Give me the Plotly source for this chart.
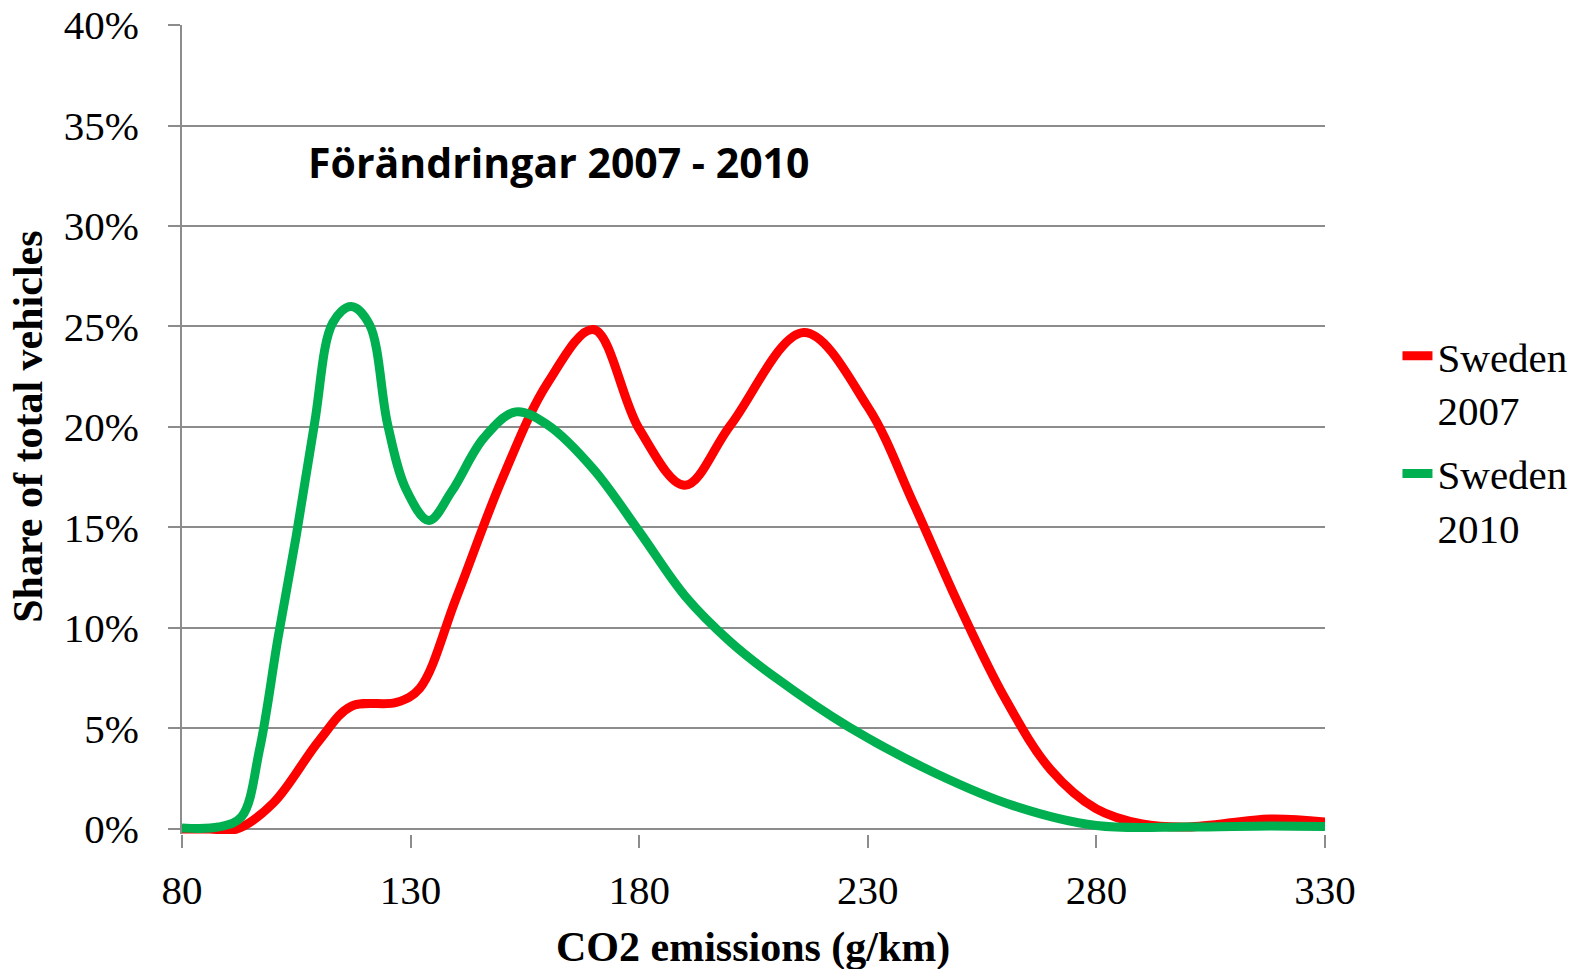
import plotly.graph_objects as go

# CO2 emissions (g/km) and share of total vehicles (%)
x_2007 = [80, 86, 92, 100, 110, 117, 127, 132, 140, 150, 160, 170, 180, 190, 200,
          216, 230, 240, 250, 260, 270, 280, 290, 300, 318, 330]
y_2007 = [0.0, 0.0, 0.0, 1.3, 4.4, 6.1, 6.3, 7.0, 11.5, 17.4, 22.2, 24.85, 19.9, 17.1, 20.1,
          24.7, 21.0, 16.2, 11.1, 6.5, 2.95, 1.0, 0.25, 0.1, 0.5, 0.35]

x_2010 = [80, 88, 93, 97, 101, 105, 109, 113, 117, 121, 125, 129, 134, 139, 146, 153,
          160, 170, 180, 190, 200, 210, 226, 245, 262, 280, 300, 318, 330]
y_2010 = [0.05, 0.1, 0.6, 4.0, 9.5, 14.6, 20.2, 25.2, 26.0, 25.1, 20.1, 16.9, 15.35, 16.8, 19.45, 20.75,
          20.1, 17.9, 14.8, 11.6, 9.3, 7.5, 5.05, 2.75, 1.15, 0.17, 0.1, 0.15, 0.12]

series_names = ["Sweden<br>2007", "Sweden<br>2010"]
series_colors = ["#FF0000", "#00B050"]

x_ticks = [80, 130, 180, 230, 280, 330]
y_ticks = [0, 5, 10, 15, 20, 25, 30, 35, 40]
y_ticklabels = [f"{v}%" for v in y_ticks]

title_text = "Förändringar 2007 - 2010"
x_title = "CO2 emissions (g/km)"
y_title = "Share of total vehicles"

SERIF = "Liberation Serif, Times New Roman, serif"
GRID = "#8C8C8C"

fig = go.Figure()
for i, (xs, ys, name, col) in enumerate([(x_2007, y_2007, series_names[0], series_colors[0]),
                                         (x_2010, y_2010, series_names[1], series_colors[1])]):
    fig.add_trace(go.Scatter(x=xs, y=ys, name=name, mode="lines", legendgroup=f"g{i}",
                             line=dict(color=col, width=9, shape="spline", smoothing=1.0)))

# the page body has an 8px default margin, so the figure is 8px smaller than the window
fig.update_layout(
    width=1577, height=961,
    margin=dict(l=174, r=260, t=17, b=135, autoexpand=False),
    paper_bgcolor="white", plot_bgcolor="white",
    font=dict(family=SERIF, size=41, color="black"),
    showlegend=True,
    legend=dict(x=1.0634, y=0.632, xanchor="left", yanchor="top",
                font=dict(family=SERIF, size=41, color="black"),
                valign="top", bgcolor="rgba(0,0,0,0)", itemwidth=30,
                traceorder="grouped", tracegroupgap=8),
    xaxis=dict(range=[80, 330], tickvals=x_ticks, showgrid=False, zeroline=False,
               showline=False, ticks="outside", ticklen=13, tickcolor=GRID, tickwidth=2,
               tickfont=dict(family=SERIF, size=41), ticklabelstandoff=7, automargin=False),
    yaxis=dict(range=[-0.25, 40], tickvals=y_ticks, ticktext=y_ticklabels,
               showgrid=True, gridcolor=GRID, gridwidth=2, zeroline=False,
               showline=True, linecolor=GRID, linewidth=2,
               ticks="outside", ticklen=12, tickcolor=GRID, tickwidth=2,
               tickfont=dict(family=SERIF, size=41), ticklabelstandoff=21,
               ticklabeloverflow="allow", automargin=False),
    annotations=[
        dict(text=f"<b>{title_text}</b>", x=0.3298, y=0.8305, xref="paper", yref="paper",
             xanchor="center", yanchor="middle", showarrow=False,
             font=dict(family="Open Sans, Lato, sans-serif", size=41, color="black")),
        dict(text=f"<b>{x_title}</b>", x=0.4996, y=-0.1397, xref="paper", yref="paper",
             xanchor="center", yanchor="middle", showarrow=False,
             font=dict(family=SERIF, size=42, color="black")),
        dict(text=f"<b>{y_title}</b>", x=-0.1343, y=0.504, xref="paper", yref="paper",
             xanchor="center", yanchor="middle", showarrow=False, textangle=-90,
             font=dict(family=SERIF, size=42, color="black")),
    ],
)

fig.write_html("out.html")
